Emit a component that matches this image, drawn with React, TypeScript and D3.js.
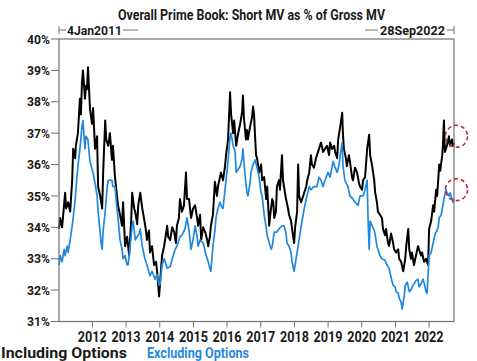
import React from "react";
import * as d3 from "d3";

const TITLE = "Overall Prime Book: Short MV as % of Gross MV";
const START_LABEL = "4Jan2011";
const END_LABEL = "28Sep2022";
const START_DATE = new Date(2011, 0, 4);
const END_DATE = new Date(2022, 8, 28);
const Y_TICKS = [31, 32, 33, 34, 35, 36, 37, 38, 39, 40];
const X_TICK_YEARS = [2012, 2013, 2014, 2015, 2016, 2017, 2018, 2019, 2020, 2021, 2022];
const SERIES_NAMES = ["Including Options", "Excluding Options"];
const HIGHLIGHT_VALUES = [36.9, 35.2];

// [decimal year, % of gross MV]
const including: [number, number][] = [
  [2011.01, 33.95], [2011.04, 34.3], [2011.1, 34.0], [2011.19, 35.1], [2011.22, 34.6], [2011.28, 34.8],
  [2011.34, 34.5], [2011.4, 35.5], [2011.43, 36.5], [2011.49, 36.2], [2011.51, 36.6], [2011.57, 37.0],
  [2011.63, 38.1], [2011.66, 37.6], [2011.69, 38.6], [2011.72, 39.0], [2011.78, 38.1], [2011.81, 38.5],
  [2011.84, 38.4], [2011.87, 39.1], [2011.93, 37.75], [2011.99, 37.3], [2012.02, 37.8], [2012.08, 36.5],
  [2012.14, 36.9], [2012.17, 35.3], [2012.23, 35.0], [2012.29, 34.6], [2012.32, 35.75], [2012.38, 37.4],
  [2012.41, 36.8], [2012.47, 36.6], [2012.52, 37.0], [2012.58, 36.15], [2012.61, 36.6], [2012.67, 35.6],
  [2012.73, 35.0], [2012.76, 34.7], [2012.82, 34.4], [2012.88, 34.05], [2012.91, 34.8], [2012.97, 33.4],
  [2013.03, 33.7], [2013.09, 33.1], [2013.15, 34.2], [2013.18, 35.1], [2013.24, 34.6], [2013.27, 34.5],
  [2013.33, 34.1], [2013.36, 34.7], [2013.42, 35.1], [2013.48, 34.6], [2013.53, 34.3], [2013.59, 33.9],
  [2013.62, 33.6], [2013.68, 33.9], [2013.71, 33.2], [2013.77, 33.4], [2013.83, 32.8], [2013.89, 32.9],
  [2013.92, 32.6], [2013.95, 32.2], [2013.98, 31.8], [2014.04, 32.7], [2014.07, 33.1], [2014.13, 33.4],
  [2014.16, 33.6], [2014.22, 34.05], [2014.25, 33.7], [2014.31, 33.6], [2014.37, 34.0], [2014.43, 33.85],
  [2014.48, 33.5], [2014.51, 34.05], [2014.57, 34.3], [2014.6, 34.9], [2014.66, 34.5], [2014.72, 34.7],
  [2014.78, 35.75], [2014.81, 34.9], [2014.87, 34.9], [2014.93, 34.3], [2014.99, 34.6], [2015.05, 34.7],
  [2015.11, 34.3], [2015.14, 34.05], [2015.2, 34.4], [2015.23, 33.6], [2015.29, 34.0], [2015.35, 33.85],
  [2015.41, 33.6], [2015.44, 33.4], [2015.49, 33.7], [2015.52, 34.05], [2015.58, 34.4], [2015.64, 35.45],
  [2015.7, 35.0], [2015.73, 35.3], [2015.79, 35.6], [2015.82, 35.75], [2015.88, 35.5], [2015.94, 35.95],
  [2015.97, 36.3], [2016.03, 36.8], [2016.09, 38.3], [2016.12, 37.6], [2016.18, 37.0], [2016.21, 37.4],
  [2016.27, 36.6], [2016.33, 37.0], [2016.39, 37.3], [2016.45, 37.7], [2016.47, 38.2], [2016.5, 37.5],
  [2016.56, 36.8], [2016.59, 37.1], [2016.62, 36.8], [2016.68, 37.2], [2016.74, 37.5], [2016.77, 37.85],
  [2016.8, 37.6], [2016.83, 36.9], [2016.86, 36.3], [2016.89, 36.2], [2016.95, 35.75], [2017.01, 36.0],
  [2017.04, 35.5], [2017.1, 35.6], [2017.16, 34.9], [2017.19, 35.3], [2017.25, 34.05], [2017.28, 34.4],
  [2017.34, 34.9], [2017.37, 34.8], [2017.4, 34.3], [2017.45, 34.5], [2017.48, 35.3], [2017.54, 35.5],
  [2017.57, 35.2], [2017.63, 36.3], [2017.66, 35.5], [2017.72, 35.1], [2017.75, 34.9], [2017.81, 34.6],
  [2017.84, 34.4], [2017.9, 34.2], [2017.93, 33.95], [2017.99, 33.5], [2018.02, 34.0], [2018.08, 34.5],
  [2018.11, 36.0], [2018.14, 35.0], [2018.2, 34.8], [2018.26, 35.0], [2018.35, 35.3], [2018.38, 35.5],
  [2018.44, 35.75], [2018.49, 36.3], [2018.52, 36.0], [2018.58, 35.9], [2018.64, 36.2], [2018.73, 36.5],
  [2018.79, 36.7], [2018.85, 36.4], [2018.91, 36.5], [2018.97, 36.6], [2019.03, 36.3], [2019.06, 36.7],
  [2019.12, 36.5], [2019.18, 36.6], [2019.21, 36.4], [2019.27, 36.2], [2019.3, 36.8], [2019.36, 37.2],
  [2019.42, 37.65], [2019.44, 37.0], [2019.47, 36.5], [2019.53, 36.2], [2019.56, 35.95], [2019.62, 36.3],
  [2019.65, 36.1], [2019.71, 35.6], [2019.74, 35.5], [2019.8, 35.9], [2019.86, 35.75], [2019.92, 35.4],
  [2019.95, 35.3], [2020.01, 35.2], [2020.04, 35.5], [2020.1, 35.6], [2020.16, 36.5], [2020.22, 36.95],
  [2020.25, 36.3], [2020.31, 35.95], [2020.37, 35.5], [2020.4, 35.1], [2020.45, 34.8], [2020.48, 34.5],
  [2020.54, 34.4], [2020.6, 34.3], [2020.63, 33.95], [2020.69, 33.75], [2020.72, 33.95], [2020.78, 33.5],
  [2020.81, 33.4], [2020.87, 33.8], [2020.93, 33.5], [2020.96, 33.3], [2021.02, 33.2], [2021.08, 33.3],
  [2021.11, 33.0], [2021.17, 32.9], [2021.23, 32.6], [2021.29, 33.0], [2021.32, 33.4], [2021.38, 33.95],
  [2021.41, 33.3], [2021.46, 33.0], [2021.49, 33.2], [2021.55, 32.8], [2021.61, 33.1], [2021.67, 33.4],
  [2021.7, 33.3], [2021.76, 33.1], [2021.79, 33.2], [2021.85, 32.9], [2021.91, 33.0], [2021.97, 32.8],
  [2022.0, 33.95], [2022.06, 34.2], [2022.12, 34.7], [2022.15, 34.5], [2022.21, 35.2], [2022.24, 35.0],
  [2022.3, 36.0], [2022.33, 35.8], [2022.39, 36.3], [2022.41, 36.6], [2022.44, 37.4], [2022.47, 36.4],
  [2022.53, 36.6], [2022.59, 36.9], [2022.62, 36.6], [2022.68, 36.8], [2022.71, 36.6], [2022.74, 36.7],
];

const excluding: [number, number][] = [
  [2011.01, 32.8], [2011.04, 33.1], [2011.1, 32.9], [2011.16, 33.3], [2011.19, 33.1], [2011.25, 33.4],
  [2011.28, 33.2], [2011.34, 33.6], [2011.4, 34.05], [2011.43, 34.3], [2011.49, 34.9], [2011.51, 35.2],
  [2011.57, 35.95], [2011.63, 36.5], [2011.69, 37.2], [2011.72, 37.4], [2011.78, 36.5], [2011.81, 36.9],
  [2011.87, 36.8], [2011.9, 36.4], [2011.93, 36.1], [2011.99, 35.85], [2012.02, 35.75], [2012.08, 35.4],
  [2012.14, 35.0], [2012.17, 34.5], [2012.23, 33.85], [2012.26, 33.5], [2012.29, 33.3], [2012.32, 33.9],
  [2012.38, 34.5], [2012.44, 35.3], [2012.47, 35.5], [2012.52, 35.5], [2012.58, 35.5], [2012.61, 35.3],
  [2012.67, 35.3], [2012.73, 34.6], [2012.76, 34.3], [2012.82, 33.6], [2012.88, 33.3], [2012.91, 33.0],
  [2012.97, 33.1], [2013.03, 32.8], [2013.06, 32.8], [2013.12, 33.4], [2013.18, 34.05], [2013.21, 34.2],
  [2013.27, 33.6], [2013.33, 33.7], [2013.39, 33.8], [2013.42, 33.95], [2013.48, 33.4], [2013.56, 33.0],
  [2013.62, 32.8], [2013.71, 32.45], [2013.77, 32.6], [2013.86, 32.35], [2013.92, 32.5], [2013.98, 32.15],
  [2014.01, 32.2], [2014.07, 32.8], [2014.13, 33.0], [2014.16, 32.9], [2014.22, 32.7], [2014.31, 32.75],
  [2014.37, 33.0], [2014.46, 33.3], [2014.51, 33.4], [2014.6, 33.7], [2014.66, 33.75], [2014.75, 33.95],
  [2014.81, 34.3], [2014.87, 33.9], [2014.93, 33.3], [2014.99, 33.6], [2015.05, 34.05], [2015.11, 33.7],
  [2015.14, 33.4], [2015.2, 33.6], [2015.29, 33.5], [2015.38, 33.1], [2015.44, 32.9], [2015.49, 32.7],
  [2015.52, 32.6], [2015.58, 33.4], [2015.64, 33.9], [2015.67, 34.3], [2015.73, 34.6], [2015.79, 34.8],
  [2015.82, 34.7], [2015.88, 34.6], [2015.94, 35.2], [2015.97, 35.5], [2016.03, 36.1], [2016.09, 36.9],
  [2016.12, 37.0], [2016.18, 36.6], [2016.24, 36.4], [2016.27, 35.75], [2016.33, 35.85], [2016.39, 35.95],
  [2016.45, 36.2], [2016.47, 36.5], [2016.53, 35.7], [2016.59, 35.1], [2016.62, 35.0], [2016.68, 35.4],
  [2016.71, 35.75], [2016.77, 36.0], [2016.83, 36.15], [2016.89, 35.9], [2016.95, 35.6], [2017.01, 35.1],
  [2017.04, 35.0], [2017.1, 34.4], [2017.16, 34.0], [2017.19, 33.75], [2017.25, 33.5], [2017.31, 33.3],
  [2017.34, 33.4], [2017.4, 33.85], [2017.48, 33.85], [2017.54, 33.95], [2017.63, 34.05], [2017.69, 34.05],
  [2017.75, 33.8], [2017.78, 33.5], [2017.84, 33.4], [2017.9, 33.2], [2017.93, 32.9], [2017.99, 32.6],
  [2018.02, 32.8], [2018.08, 33.2], [2018.14, 33.6], [2018.2, 34.05], [2018.26, 34.4], [2018.29, 34.6],
  [2018.35, 34.9], [2018.44, 35.3], [2018.49, 35.2], [2018.58, 35.3], [2018.67, 35.3], [2018.73, 35.6],
  [2018.79, 35.5], [2018.85, 35.3], [2018.91, 35.5], [2019.0, 35.75], [2019.06, 35.6], [2019.15, 36.1],
  [2019.21, 35.9], [2019.27, 35.75], [2019.33, 36.0], [2019.36, 36.3], [2019.42, 36.7], [2019.44, 36.0],
  [2019.5, 35.5], [2019.59, 35.3], [2019.65, 35.0], [2019.74, 34.9], [2019.8, 34.8], [2019.89, 34.7],
  [2019.95, 35.0], [2020.04, 35.0], [2020.1, 35.2], [2020.16, 35.5], [2020.19, 34.2], [2020.22, 33.3],
  [2020.25, 34.2], [2020.31, 34.05], [2020.37, 33.9], [2020.4, 33.75], [2020.45, 33.4], [2020.54, 33.1],
  [2020.6, 33.0], [2020.69, 32.95], [2020.75, 32.8], [2020.81, 32.7], [2020.87, 32.4], [2020.93, 32.15],
  [2020.99, 32.1], [2021.02, 31.95], [2021.08, 31.9], [2021.11, 31.75], [2021.17, 31.6], [2021.2, 31.4],
  [2021.26, 31.8], [2021.29, 32.15], [2021.35, 32.25], [2021.41, 31.95], [2021.46, 32.0], [2021.52, 32.15],
  [2021.61, 32.3], [2021.67, 32.35], [2021.7, 32.1], [2021.76, 32.2], [2021.82, 32.35], [2021.88, 32.1],
  [2021.91, 31.95], [2021.94, 31.9], [2022.0, 33.1], [2022.06, 33.2], [2022.12, 33.5], [2022.18, 33.8],
  [2022.21, 33.85], [2022.27, 34.0], [2022.3, 34.3], [2022.36, 34.4], [2022.41, 34.7], [2022.44, 34.9],
  [2022.5, 35.2], [2022.53, 35.1], [2022.59, 35.0], [2022.62, 35.1], [2022.68, 34.9], [2022.71, 34.8],
  [2022.74, 34.9],
];

const COLORS = { including: "#000000", excluding: "#1f88e0", frame: "#707070", text: "#1a1a1a", marker: "#c0283a" };

function decYear(y: number): Date {
  const yr = Math.floor(y);
  const s = Date.UTC(yr, 0, 1);
  const e = Date.UTC(yr + 1, 0, 1);
  return new Date(s + (y - yr) * (e - s));
}

export default function App() {
  const W = 477, H = 361;
  const m = { left: 59, right: 454, top: 39, bottom: 321.5 };
  const x = d3.scaleTime().domain([START_DATE, END_DATE]).range([m.left, m.right]);
  const y = d3.scaleLinear().domain([31, 40]).range([m.bottom, m.top]);
  const line = d3
    .line<[number, number]>()
    .x((d) => x(decYear(d[0])))
    .y((d) => y(d[1]));

  const font = "Roboto, 'Liberation Sans', sans-serif";
  const lastX = x(END_DATE);

  return (
    <svg width={W} height={H} style={{ position: "absolute", left: 0, top: 0, background: "#fff" }} fontFamily={font}>
      <rect x={0} y={0} width={W} height={H} fill="#fff" />
      <text x={251.5} y={20} textAnchor="middle" fontSize={14} fontWeight={700} fill={COLORS.text} textLength={267} lengthAdjust="spacingAndGlyphs">
        {TITLE}
      </text>

      {/* start / end date markers */}
      <g stroke={COLORS.frame} strokeWidth={1}>
        <line x1={m.left} x2={m.left} y1={26} y2={34} />
        <line x1={m.left} x2={66} y1={30} y2={30} />
        <line x1={123} x2={138} y1={30} y2={30} />
        <line x1={365} x2={378} y1={30} y2={30} />
        <line x1={447} x2={m.right} y1={30} y2={30} />
        <line x1={m.right} x2={m.right} y1={26} y2={34} />
      </g>
      <text x={67} y={34.5} fontSize={13} fontWeight={700} fill={COLORS.text} textLength={55} lengthAdjust="spacingAndGlyphs">{START_LABEL}</text>
      <text x={380} y={34.5} fontSize={13} fontWeight={700} fill={COLORS.text} textLength={65} lengthAdjust="spacingAndGlyphs">{END_LABEL}</text>

      {/* lines */}
      <path d={line(including) || ""} fill="none" stroke={COLORS.including} strokeWidth={2} strokeLinejoin="round" />
      <path d={line(excluding) || ""} fill="none" stroke={COLORS.excluding} strokeWidth={1.7} strokeLinejoin="round" />

      {/* frame */}
      <rect x={m.left} y={m.top} width={m.right - m.left} height={m.bottom - m.top} fill="none" stroke={COLORS.frame} strokeWidth={1.2} />

      {/* y axis */}
      {Y_TICKS.map((t) => (
        <g key={t}>
          <line x1={m.left - 8} x2={m.left} y1={y(t)} y2={y(t)} stroke={COLORS.frame} strokeWidth={1} />
          <text x={m.left - 9} y={y(t) + 4.6} textAnchor="end" fontSize={13} fontWeight={700} fill={COLORS.text} textLength={23} lengthAdjust="spacingAndGlyphs">
            {t}%
          </text>
        </g>
      ))}

      {/* x axis */}
      {X_TICK_YEARS.map((yr) => {
        const px = x(new Date(yr, 0, 1));
        return (
          <g key={yr}>
            <line x1={px} x2={px} y1={m.bottom} y2={m.bottom + 6} stroke={COLORS.frame} strokeWidth={1} />
            <text x={px} y={341.5} textAnchor="middle" fontSize={14} fontWeight={700} fill={COLORS.text} textLength={29} lengthAdjust="spacingAndGlyphs">
              {yr}
            </text>
          </g>
        );
      })}

      {/* highlight circles */}
      {HIGHLIGHT_VALUES.map((v, i) => (
        <circle key={i} cx={lastX + 2.5} cy={y(v)} r={11} fill="none" stroke={COLORS.marker} strokeWidth={1.6} strokeDasharray="4 3" />
      ))}

      {/* legend */}
      <text x={1} y={358} fontSize={14} fontWeight={700} fill={COLORS.text} textLength={126} lengthAdjust="spacingAndGlyphs">{SERIES_NAMES[0]}</text>
      <text x={147} y={358} fontSize={14} fontWeight={700} fill={COLORS.excluding} textLength={102} lengthAdjust="spacingAndGlyphs">{SERIES_NAMES[1]}</text>
    </svg>
  );
}
